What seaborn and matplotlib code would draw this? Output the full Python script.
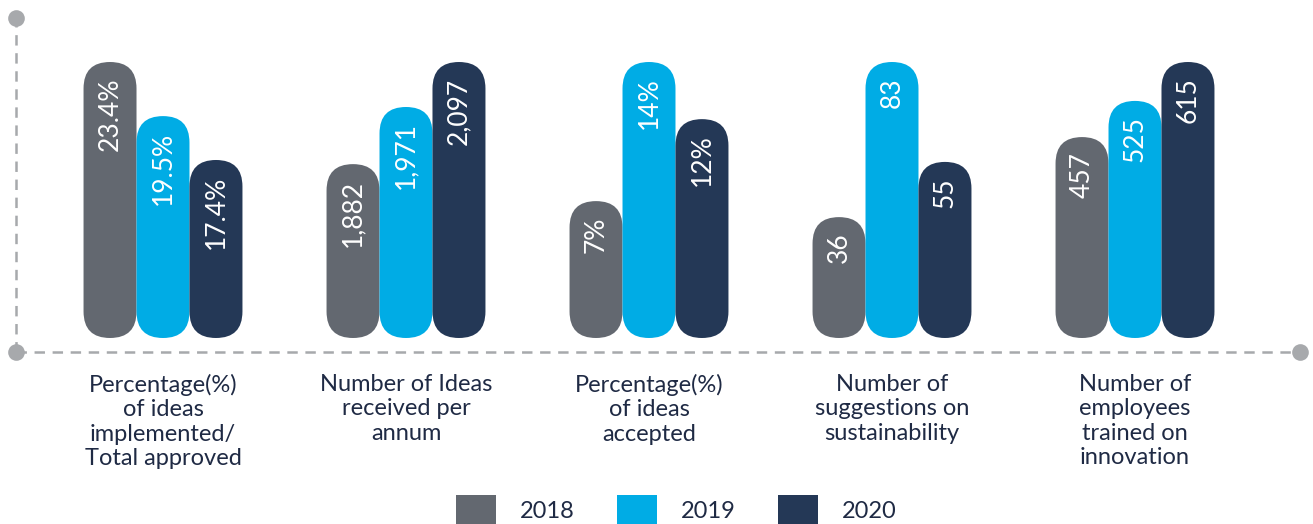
#!/usr/bin/env python3
import pandas as pd
import numpy as np
import matplotlib.pyplot as plt
import seaborn as sns
from matplotlib.patches import FancyBboxPatch, Patch
from matplotlib.lines import Line2D

# chart data
metrics = [
    "Percentage(%)\nof ideas\nimplemented/\nTotal approved",
    "Number of Ideas\nreceived per\nannum",
    "Percentage(%)\nof ideas\naccepted",
    "Number of\nsuggestions on\nsustainability",
    "Number of\nemployees\ntrained on\ninnovation",
]
years = ["2018", "2019", "2020"]
labels_2018 = ["23.4%", "1,882", "7%", "36", "457"]
labels_2019 = ["19.5%", "1,971", "14%", "83", "525"]
labels_2020 = ["17.4%", "2,097", "12%", "55", "615"]
# drawn bar heights (each group scaled so its tallest bar = 100)
height_2018 = [100, 63.0, 49.6, 43.8, 72.8]
height_2019 = [80.4, 83.7, 100, 100, 85.9]
height_2020 = [64.5, 100, 79.3, 63.8, 100]

colors = ["#636870", "#00ace5", "#243856"]
text_color = "#1f2a44"
axis_grey = "#a7a9ac"


def main():
    sns.set_theme(style="white")
    plt.rcParams['font.family'] = ['Lato', 'DejaVu Sans']
    plt.rcParams['lines.scale_dashes'] = False

    rows = []
    for yr, hs, ls in zip(years, [height_2018, height_2019, height_2020],
                          [labels_2018, labels_2019, labels_2020]):
        for m, h, l in zip(metrics, hs, ls):
            rows.append({"metric": m, "year": yr, "height": h, "label": l})
    df = pd.DataFrame(rows)

    fig = plt.figure(figsize=(13.13, 5.24), dpi=100)
    ax = fig.add_axes([0, 0, 1, 1])

    sns.barplot(data=df, x="metric", y="height", hue="year", hue_order=years,
                order=metrics, palette=colors, saturation=1, width=0.654,
                legend=False, ax=ax)

    # layout: groups 243 px apart, baseline 338 px from top, 100 units = 276 px
    ax.set_xlim(-163 / 243, (1313 - 163) / 243)
    ax.set_ylim((338 - 524) / 2.76, 338 / 2.76)
    ax.axis("off")
    fig.canvas.draw()

    # aspect for rounding the bars in screen space
    p0 = ax.transData.transform((0, 0))
    p1 = ax.transData.transform((1, 1))
    aspect = (p1[0] - p0[0]) / (p1[1] - p0[1])

    for cont, yr in zip(ax.containers, years):
        sub = df[df["year"] == yr].set_index("metric").loc[metrics]
        for bar, lab in zip(cont, sub["label"]):
            x, y = bar.get_x(), bar.get_y()
            w, h = bar.get_width(), bar.get_height()
            col = bar.get_facecolor()
            bar.set_visible(False)
            fb = FancyBboxPatch((x, y), w, h,
                                boxstyle=f"round,pad=0,rounding_size={w / 2}",
                                mutation_aspect=aspect, facecolor=col,
                                edgecolor="none", zorder=3)
            ax.add_patch(fb)
            ax.text(x + w / 2, y + h - 5.6, lab, rotation=90, ha="center",
                    va="top", color="white", fontsize=19, zorder=4)

    # category labels under the axis line
    for i, m in enumerate(metrics):
        ax.text(i, (338 - 374) / 2.76, m, ha="center", va="top",
                fontsize=17, color=text_color, linespacing=1.2)

    # dashed axis lines with dot ends
    x0, yb, yt, xr = 16 / 1313, 1 - 352 / 524, 1 - 18 / 524, 1300 / 1313
    dash = (0, (7.5, 5.5))
    fig.add_artist(Line2D([x0, x0], [yb, yt], transform=fig.transFigure,
                          color=axis_grey, lw=1.8, linestyle=dash))
    fig.add_artist(Line2D([x0, xr], [yb, yb], transform=fig.transFigure,
                          color=axis_grey, lw=1.8, linestyle=dash))
    fig.add_artist(Line2D([x0, x0, xr], [yt, yb, yb], transform=fig.transFigure,
                          color=axis_grey, lw=0, marker="o", markersize=12,
                          markeredgewidth=0))

    handles = [Patch(facecolor=c, edgecolor="none") for c in colors]
    fig.legend(handles, years, loc="lower center", bbox_to_anchor=(0.515, -0.005),
               ncol=3, frameon=False, fontsize=17, handlelength=1.7,
               handleheight=1.7, handletextpad=1.0, columnspacing=1.8,
               borderaxespad=0, borderpad=0, labelcolor=text_color)

    fig.savefig("out.png", dpi=100)


if __name__ == "__main__":
    main()
